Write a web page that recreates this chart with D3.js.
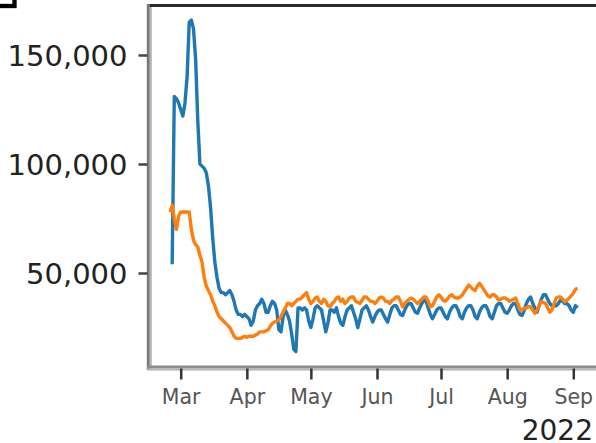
<!DOCTYPE html>
<html>
<head>
<meta charset="utf-8">
<script src="https://cdn.jsdelivr.net/npm/d3@7"></script>
<style>
	body{margin:0;background:#fff;}
	svg{display:block;}
	svg text{font-family:"DejaVu Sans",sans-serif;}
	.ytick text{font-size:29px;fill:#222;}
	.xtick text{font-size:20.5px;fill:#555;}
	.offset{font-size:28px;fill:#222;}
</style>
</head>
<body>
<script>
(function(){
	//daily counts (thousands), blue series starts 2022-02-25
	var blueStart="2022-02-25";
	var blueValues=[
		54,131,130,128,
		125,122,128,140,165,166,162,
		148,120,100,99,98,96,90,
		80,66,55,48,43,41,41,
		40,41,42,40,37,33,31,
		31,30,31,30,29,26,28,
		33,35,36,38,36,32,32,
		35,37,36,33,24,23,30,
		33,31,28,22,15,14,34,
		34,33,34,33,28,25,29,
		34,35,34,33,28,23,27,
		33,33,32,34,30,27,26,
		30,33,34,35,32,29,25,
		29,33,34,35,33,30,27.5,
		30,32,33,33,31,29,27.5,
		31,34,35,35,33,31,30.5,
		33,35,36,36,34,32,31.5,
		34,36,37.5,37,34,31,29,
		31,33,34,34,32,30,29,
		32,34,35,35,33,30,29,
		32,34,35,35,33,30,29,
		32,34,35,35,33,30,29,
		32,35,36,36,34,32,31.5,
		33,35,36,36,33,31,30.5,
		33,36,38,39,36,34,32,
		35,38,40,40,38,36,35,
		35,35,36,37.5,37,36,36,
		35,33,32,35,34
	];
	//orange series starts 2022-02-24
	var orangeStart="2022-02-24";
	var orangeValues=[
		78,81,75,70,76,
		78,78,78,78,78,70,65,
		63,62,58,55,48,44,42,
		40,37,35,32,30,29,28,
		27,26,25,23,21,20,20,
		20,20.5,21,20.5,21,21,21,
		21.5,22,23,23,23,23.5,24,
		25.5,27,27.5,28,28.5,30,32,
		34,36,36,35,36,37,38,
		38,39,40,41,38,36,37,
		38.5,39,37,36,38,37,35,
		34.5,36,37,38.5,39,37,38,
		36,37,38.5,39,39,37,36.5,
		36,37.5,39,39,38,37,37,
		36,37,38.5,39,38.5,37,37,
		36,37.5,38,39,39,37,34.5,
		36,37,38,38.5,38,37,36,
		37,38,39,39,37,34.5,35,
		37,39,40,39,37.5,37,38,
		39.5,40,39,38.5,38.5,39,40,
		41.5,43,44.5,43.5,42.5,42,44,
		45.3,44,42.5,41,39.5,39,40,
		40,39,37.6,38,38.5,38.5,38,
		37,37.5,38,38.5,36,33,33,
		34,34,34.5,34.5,33,31.5,33,
		35,37,36.5,36,34,32,33,
		36,38.5,39,39,38,36.8,37.5,
		38.5,39.5,40.7,42.5,43
	];
	//axis ticks
	var yTickValues=[50,100,150];
	var yTickLabels=["50,000","100,000","150,000"];
	var xTickMonths=["2022-03-01","2022-04-01","2022-05-01","2022-06-01","2022-07-01","2022-08-01","2022-09-01"];
	var offsetLabel="2022";

	var width=596,
		height=443;

	var parse=d3.utcParse("%Y-%m-%d");

	//turn a start date and a list of values into daily points
	function toPoints(start,values){
		var t0=parse(start);
		return values.map(function(v,i){
			return {date:d3.utcDay.offset(t0,i),value:v};
		});
	};
	var blue=toPoints(blueStart,blueValues);
	var orange=toPoints(orangeStart,orangeValues);

	var svg=d3.select("body")
		.append("svg")
		.attr("width",width)
		.attr("height",height);

	svg.append("rect")
		.attr("width",width)
		.attr("height",height)
		.attr("fill","#fff");

	//plot frame
	var left=149,
		top=5.5,
		bottom=367;

	var xScale=d3.scaleUtc()
		.domain([parse("2022-03-01"),parse("2022-09-01")])
		.range([180.7,573.3]);

	var yScale=d3.scaleLinear()
		.domain([0,150])
		.range([382,55]);

	//corner of a box cut off at the top left
	svg.append("rect")
		.attr("x",-20)
		.attr("y",-20)
		.attr("width",34.5)
		.attr("height",26)
		.attr("fill","none")
		.attr("stroke","#000")
		.attr("stroke-width",4.3);

	//lines
	var line=d3.line()
		.x(function(d){return xScale(d.date);})
		.y(function(d){return yScale(d.value);});

	svg.append("path")
		.datum(blue)
		.attr("d",line)
		.attr("fill","none")
		.attr("stroke","#1f77b4")
		.attr("stroke-width",3.4)
		.attr("stroke-linejoin","round");

	svg.append("path")
		.datum(orange)
		.attr("d",line)
		.attr("fill","none")
		.attr("stroke","#ff7f0e")
		.attr("stroke-width",3.4)
		.attr("stroke-linejoin","round");

	//spines
	svg.append("line")
		.attr("x1",left-2).attr("x2",width+4)
		.attr("y1",top).attr("y2",top)
		.attr("stroke","#2b2b2b")
		.attr("stroke-width",3);
	svg.append("line")
		.attr("x1",left-0.7).attr("x2",left-0.7)
		.attr("y1",top-1.5).attr("y2",bottom+3)
		.attr("stroke","#7a7a7a")
		.attr("stroke-width",3);
	svg.append("line")
		.attr("x1",left+1.8).attr("x2",left+1.8)
		.attr("y1",top+1.5).attr("y2",bottom)
		.attr("stroke","#b4b4b4")
		.attr("stroke-width",2);
	svg.append("line")
		.attr("x1",left-2).attr("x2",width+4)
		.attr("y1",bottom).attr("y2",bottom)
		.attr("stroke","#8c8c8c")
		.attr("stroke-width",3);
	svg.append("line")
		.attr("x1",left-2).attr("x2",width+4)
		.attr("y1",bottom+2.5).attr("y2",bottom+2.5)
		.attr("stroke","#b4b4b4")
		.attr("stroke-width",2);

	//y axis
	var yAxis=d3.axisLeft(yScale)
		.tickValues(yTickValues)
		.tickFormat(function(d,i){return yTickLabels[i];})
		.tickSize(9)
		.tickPadding(11);

	var yg=svg.append("g")
		.attr("transform","translate("+(left-1.5)+",0)")
		.call(yAxis)
		.attr("font-family",null)
		.attr("font-size",null);
	yg.select(".domain").remove();
	yg.selectAll(".tick").attr("class","tick ytick");
	yg.selectAll(".tick line")
		.attr("stroke","#444")
		.attr("stroke-width",2.5);
	yg.selectAll(".tick text")
		.attr("dy","0.36em")
		.attr("fill",null);

	//x axis
	var xAxis=d3.axisBottom(xScale)
		.tickValues(xTickMonths.map(parse))
		.tickFormat(d3.utcFormat("%b"))
		.tickSize(11)
		.tickPadding(10);

	var xg=svg.append("g")
		.attr("transform","translate(0,"+(bottom+1.5)+")")
		.call(xAxis)
		.attr("font-family",null)
		.attr("font-size",null);
	xg.select(".domain").remove();
	xg.selectAll(".tick").attr("class","tick xtick");
	xg.selectAll(".tick line")
		.attr("stroke","#333")
		.attr("stroke-width",2.5);
	xg.selectAll(".tick text")
		.attr("dy",null)
		.attr("y",35.5)
		.attr("fill",null);

	//year offset label under the axis
	svg.append("text")
		.attr("class","offset")
		.attr("x",593)
		.attr("y",440)
		.attr("text-anchor","end")
		.text(offsetLabel);
})();
</script>
</body>
</html>
